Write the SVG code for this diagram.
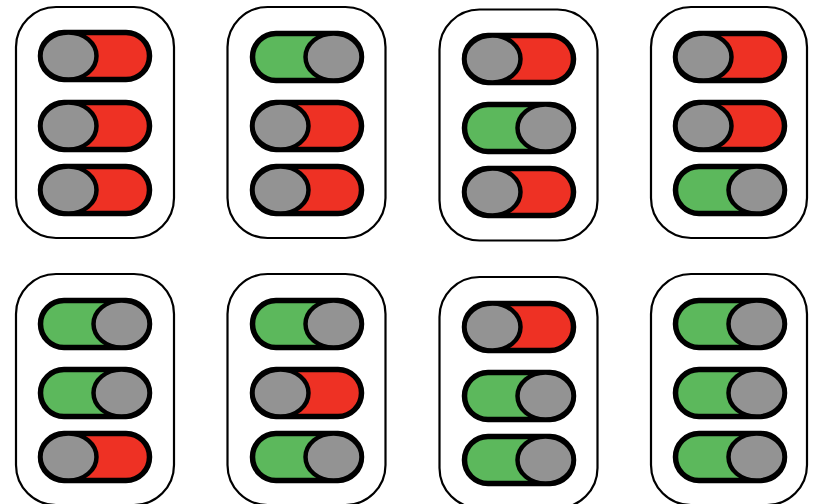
<svg xmlns="http://www.w3.org/2000/svg" width="816" height="504" viewBox="0 0 816 504">
<style>
.panel{fill:#fff;stroke:#000;stroke-width:2.2}
.track{stroke:#000;stroke-width:5.5}
.off .track{fill:#EE3124}
.on .track{fill:#5CB85C}
.knob{fill:#939393;stroke:#000;stroke-width:4.5}
</style>
<defs>
<g id="tOff" class="off"><rect class="track" x="-54.5" y="-23.5" width="109" height="47" rx="23.5"/><ellipse class="knob" cx="-26.5" cy="0" rx="28" ry="23.5"/></g>
<g id="tOn" class="on"><rect class="track" x="-54.5" y="-23.5" width="109" height="47" rx="23.5"/><ellipse class="knob" cx="26.5" cy="0" rx="28" ry="23.5"/></g>
</defs>
<rect width="816" height="504" fill="#fff"/>
<g id="panel1">
<rect class="panel" x="16" y="7" width="158" height="231" rx="40"/>
<use href="#tOff" x="95" y="56"/><use href="#tOff" x="95" y="126"/><use href="#tOff" x="95" y="190"/>
</g>
<g id="panel2">
<rect class="panel" x="227.5" y="7" width="158" height="231" rx="40"/>
<use href="#tOn" x="307" y="57"/><use href="#tOff" x="307" y="126"/><use href="#tOff" x="307" y="190"/>
</g>
<g id="panel3">
<rect class="panel" x="439.5" y="9.5" width="158" height="231" rx="40"/>
<use href="#tOff" x="519" y="59"/><use href="#tOn" x="519" y="128"/><use href="#tOff" x="519" y="192"/>
</g>
<g id="panel4">
<rect class="panel" x="651" y="7" width="156" height="231" rx="40"/>
<use href="#tOff" x="730" y="57"/><use href="#tOff" x="730" y="126"/><use href="#tOn" x="730" y="190"/>
</g>
<g id="panel5">
<rect class="panel" x="16" y="274" width="158" height="231" rx="40"/>
<use href="#tOn" x="95" y="324"/><use href="#tOn" x="95" y="393"/><use href="#tOff" x="95" y="457"/>
</g>
<g id="panel6">
<rect class="panel" x="227.5" y="274" width="158" height="231" rx="40"/>
<use href="#tOn" x="307" y="324"/><use href="#tOff" x="307" y="393"/><use href="#tOn" x="307" y="457"/>
</g>
<g id="panel7">
<rect class="panel" x="439.5" y="277" width="158" height="231" rx="40"/>
<use href="#tOff" x="519" y="327"/><use href="#tOn" x="519" y="396"/><use href="#tOn" x="519" y="460"/>
</g>
<g id="panel8">
<rect class="panel" x="651" y="274" width="156" height="231" rx="40"/>
<use href="#tOn" x="730" y="324"/><use href="#tOn" x="730" y="393"/><use href="#tOn" x="730" y="457"/>
</g>
<g id="connectors"/>
</svg>
